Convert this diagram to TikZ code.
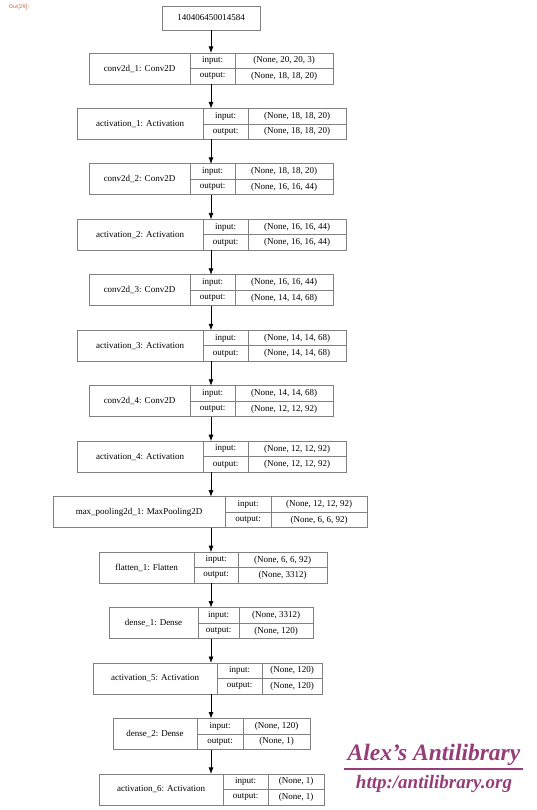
\documentclass[tikz,border=0pt]{standalone}
\usepackage{fontspec}
\setmainfont{Liberation Serif}
\usepackage{tikz}
\usetikzlibrary{arrows.meta}
\usepackage{xcolor}

\definecolor{edgegray}{gray}{0.5}
\definecolor{outred}{RGB}{205,90,60}
\definecolor{wmpurple}{RGB}{150,60,120}

\tikzset{
    cell/.style={draw=edgegray, line width=0.9pt, inner sep=0pt, outer sep=0pt, anchor=north west,
        font=\fontsize{9}{10}\selectfont},
    arr/.style={-{Latex[length=6.5pt,width=5pt]}, line width=0.8pt, black}
}

\begin{document}
\begin{tikzpicture}[x=1pt, y=-1pt]
    \useasboundingbox (0,0) rectangle (537,810);
    \coordinate (ax) at (211,0);

    % Cell label
    \node[text=outred, font=\sffamily\fontsize{5.5}{6}\selectfont] (outcell) at (19,7) {Out[29]:};

    % Input node
    \node[cell, anchor=north, minimum width=98, minimum height=24] (top) at (211,6) {140406450014584};

    % Layers: index / name / left / split 1 / split 2 / right / input shape / output shape
    \foreach \k/\lbl/\xl/\xa/\xb/\xr/\vin/\vout in {
        1/{conv2d\_1: Conv2D}/89/190/235/333/{(None, 20, 20, 3)}/{(None, 18, 18, 20)},
        2/{activation\_1: Activation}/77/203/248/346/{(None, 18, 18, 20)}/{(None, 18, 18, 20)},
        3/{conv2d\_2: Conv2D}/89/190/235/333/{(None, 18, 18, 20)}/{(None, 16, 16, 44)},
        4/{activation\_2: Activation}/77/203/248/346/{(None, 16, 16, 44)}/{(None, 16, 16, 44)},
        5/{conv2d\_3: Conv2D}/89/190/235/333/{(None, 16, 16, 44)}/{(None, 14, 14, 68)},
        6/{activation\_3: Activation}/77/203/248/346/{(None, 14, 14, 68)}/{(None, 14, 14, 68)},
        7/{conv2d\_4: Conv2D}/89/190/235/333/{(None, 14, 14, 68)}/{(None, 12, 12, 92)},
        8/{activation\_4: Activation}/77/203/248/346/{(None, 12, 12, 92)}/{(None, 12, 12, 92)},
        9/{max\_pooling2d\_1: MaxPooling2D}/53/225/271/367/{(None, 12, 12, 92)}/{(None, 6, 6, 92)},
        10/{flatten\_1: Flatten}/99/194/238/327/{(None, 6, 6, 92)}/{(None, 3312)},
        11/{dense\_1: Dense}/109/198/239/313/{(None, 3312)}/{(None, 120)},
        12/{activation\_5: Activation}/93/217/262/322/{(None, 120)}/{(None, 120)},
        13/{dense\_2: Dense}/113/197/243/310/{(None, 120)}/{(None, 1)},
        14/{activation\_6: Activation}/99/223/268/324/{(None, 1)}/{(None, 1)}} {
        \pgfmathsetmacro{\yt}{53+55.46*(\k-1)}
        \node[cell, minimum width={\xa-\xl}, minimum height=31] (l\k) at (\xl,\yt) {\lbl};
        \node[cell, minimum width={\xb-\xa}, minimum height=15.5] (l\k i) at (l\k.north east) {input:};
        \node[cell, minimum width={\xr-\xb}, minimum height=15.5] (l\k iv) at (l\k i.north east) {\vin};
        \node[cell, minimum width={\xb-\xa}, minimum height=15.5] (l\k o) at (l\k i.south west) {output:};
        \node[cell, minimum width={\xr-\xb}, minimum height=15.5] (l\k ov) at (l\k o.north east) {\vout};
    }

    % Connectors
    \draw[arr] (top.south -| ax) -- (l1.north -| ax);
    \foreach \k [evaluate=\k as \j using int(\k+1)] in {1,...,13} {
        \draw[arr] (l\k.south -| ax) -- (l\j.north -| ax);
    }

    % Watermark
    \node[text=wmpurple, font=\bfseries\itshape\fontsize{23.5}{24}\selectfont] (wm) at (434,755) {Alex's Antilibrary};
    \draw[wmpurple, line width=1.8pt] (344,769) -- (523,769);
    \node[text=wmpurple, font=\bfseries\itshape\fontsize{19}{20}\selectfont] (url) at (434,784) {http:/antilibrary.org};
\end{tikzpicture}
\end{document}
